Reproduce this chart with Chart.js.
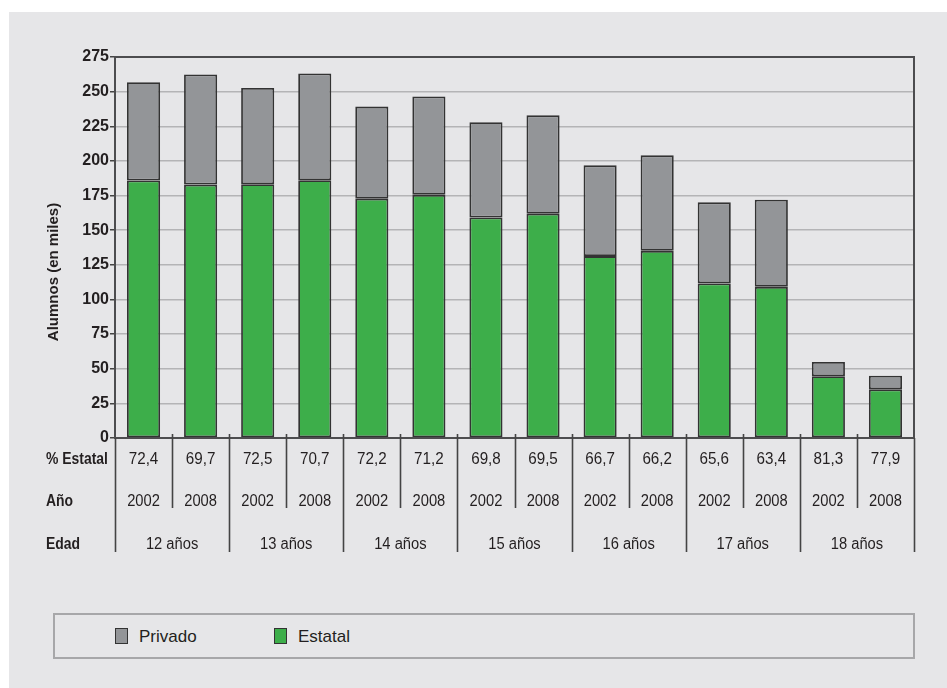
<!DOCTYPE html>
<html>
<head>
<meta charset="utf-8">
<script src="https://cdn.jsdelivr.net/npm/chart.js@4.4.1/dist/chart.umd.min.js"></script>
<style>
  html, body { margin: 0; padding: 0; background: #fff; }
  #panel { position: absolute; left: 9px; top: 12px; width: 938px; height: 676px; background: #e6e6e8; }
  #grafico { position: absolute; left: 0; top: 0; }
  #leyenda {
    position: absolute; left: 53px; top: 613px; width: 862px; height: 46px;
    box-sizing: border-box; border: 2px solid #a7a7a9; background: #e6e6e8;
    font-family: 'Liberation Sans', sans-serif; font-size: 17px; color: #231f20;
  }
  .item { position: absolute; top: 13px; height: 17px; line-height: 17px; white-space: nowrap; }
  .item span.caja { display: inline-block; width: 11px; height: 14px; border: 1.5px solid #333; vertical-align: top; margin-right: 11px; }
</style>
</head>
<body>
<div id="panel"></div>
<canvas id="grafico" width="947" height="688"></canvas>
<div id="leyenda"></div>
<script>
// Alumnos por edad y año (en miles), sector estatal y privado
const anios = ['2002', '2008', '2002', '2008', '2002', '2008', '2002', '2008', '2002', '2008', '2002', '2008', '2002', '2008'];
const edades = ['12 años', '13 años', '14 años', '15 años', '16 años', '17 años', '18 años'];
const estatal = [185.9, 182.9, 183.2, 186.0, 172.7, 175.5, 159.1, 161.9, 131.3, 135.1, 111.6, 109.1, 44.6, 35.1];
const privado = [70.9, 79.5, 69.5, 77.1, 66.5, 71.0, 68.8, 71.0, 65.5, 68.9, 58.5, 62.9, 10.3, 9.9];
const pctEstatal = ['72,4', '69,7', '72,5', '70,7', '72,2', '71,2', '69,8', '69,5', '66,7', '66,2', '65,6', '63,4', '81,3', '77,9'];

const FUENTE = "'Liberation Sans', sans-serif";
const VERDE = '#3dae4a';
const GRIS = '#939598';
const TINTA = '#231f20';

// texto comprimido en horizontal (la tipografía original es condensada)
function textoAngosto(ctx, txt, px, py, escala) {
  ctx.save();
  ctx.translate(px, py);
  ctx.scale(escala, 1);
  ctx.fillText(txt, 0, 0);
  ctx.restore();
}

// tabla bajo el eje x, marco del área y título del eje y
const tablaPlugin = {
  id: 'tabla',
  afterDraw(chart) {
    const { ctx, chartArea: a, scales: { x } } = chart;
    const paso = x.width / anios.length;
    const borde = (i) => x.left + i * paso;

    ctx.save();
    ctx.strokeStyle = '#4d4d4f';
    ctx.lineWidth = 2;
    ctx.strokeRect(a.left, a.top, a.right - a.left, a.bottom - a.top);

    // separadores verticales
    ctx.lineWidth = 1.6;
    ctx.strokeStyle = '#444';
    for (let i = 0; i <= anios.length; i++) {
      const px = Math.round(borde(i)) + 0.5;
      const largo = i % 2 === 0;
      ctx.beginPath();
      ctx.moveTo(px, i === 0 || i === anios.length ? a.bottom : a.bottom - 4);
      ctx.lineTo(px, largo ? 552 : 508);
      ctx.stroke();
    }

    // encabezados de fila
    ctx.fillStyle = TINTA;
    ctx.textBaseline = 'middle';
    ctx.textAlign = 'left';
    ctx.font = 'bold 16px ' + FUENTE;
    textoAngosto(ctx, '% Estatal', 46, 460, 0.87);
    textoAngosto(ctx, 'Año', 46, 502, 0.87);
    textoAngosto(ctx, 'Edad', 46, 545, 0.87);

    ctx.textAlign = 'center';
    ctx.font = '16px ' + FUENTE;
    anios.forEach((an, i) => {
      const cx = borde(i) + paso / 2;
      textoAngosto(ctx, pctEstatal[i], cx, 460, 0.95);
      textoAngosto(ctx, an, cx, 502, 0.92);
    });
    edades.forEach((ed, g) => {
      textoAngosto(ctx, ed, borde(2 * g + 1), 545, 0.92);
    });

    // título del eje y
    ctx.translate(54, 272);
    ctx.rotate(-Math.PI / 2);
    ctx.font = 'bold 15px ' + FUENTE;
    ctx.fillText('Alumnos (en miles)', 0, 0);
    ctx.restore();
  }
};

const chart = new Chart(document.getElementById('grafico'), {
  type: 'bar',
  data: {
    labels: anios,
    datasets: [
      {
        label: 'Estatal',
        data: estatal,
        backgroundColor: VERDE,
        borderColor: '#333',
        borderWidth: 1.8,
        borderSkipped: false,
        barPercentage: 0.58,
        categoryPercentage: 1,
      },
      {
        label: 'Privado',
        data: privado,
        backgroundColor: GRIS,
        borderColor: '#333',
        borderWidth: 1.8,
        borderSkipped: false,
        barPercentage: 0.58,
        categoryPercentage: 1,
      },
    ],
  },
  options: {
    responsive: false,
    animation: false,
    layout: { padding: { left: 0, top: 57, right: 33, bottom: 250 } },
    plugins: { legend: { display: false }, tooltip: { enabled: false } },
    scales: {
      x: { stacked: true, display: false },
      y: {
        stacked: true,
        min: 0,
        max: 275,
        afterFit: (s) => { s.width = 115; },
        border: { display: false },
        grid: { color: '#b4b4b6', lineWidth: 1.5, tickLength: 5, tickColor: '#444', tickWidth: 1.5 },
        ticks: {
          stepSize: 25,
          padding: 1,
          color: TINTA,
          font: { family: FUENTE, size: 16, weight: 'bold' },
        },
      },
    },
  },
  plugins: [tablaPlugin],
});

// leyenda en recuadro, privado primero
const leyenda = document.getElementById('leyenda');
const posiciones = [60, 219];
chart.data.datasets.slice().reverse().forEach((ds, i) => {
  const item = document.createElement('div');
  item.className = 'item';
  item.style.left = posiciones[i] + 'px';
  item.innerHTML = '<span class="caja" style="background:' + ds.backgroundColor + '"></span>' + ds.label;
  leyenda.appendChild(item);
});
</script>
</body>
</html>
